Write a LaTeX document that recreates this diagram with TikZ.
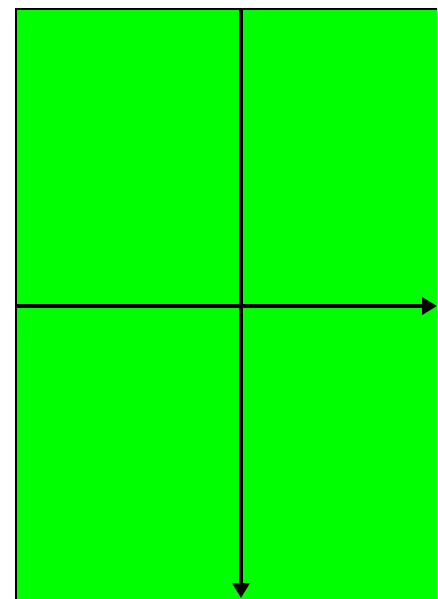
\documentclass[tikz,border=0pt]{standalone}
\usepackage{tikz}
\usetikzlibrary{arrows.meta}

\tikzset{
  axis/.style={line width=2pt, -{Triangle[length=0.3cm, width=0.34cm]}},
}

\begin{document}
\begin{tikzpicture}[x=0.02cm, y=-0.02cm]
        \useasboundingbox (0,0) rectangle (437,599);
        \clip (0,0) rectangle (437,599);
        \fill[white] (0,0) rectangle (437,599);
        \draw[line width=1.5pt, fill={rgb,255:red,0;green,255;blue,0}] (16,9) rectangle (470,640); % field
        \coordinate (top) at (241,9);
        \coordinate (bottom) at (241,598);
        \coordinate (left) at (16,306);
        \coordinate (right) at (437,306);
        \draw[axis] (left) -- (right);
        \draw[axis] (top) -- (bottom);
    \end{tikzpicture}
\end{document}
